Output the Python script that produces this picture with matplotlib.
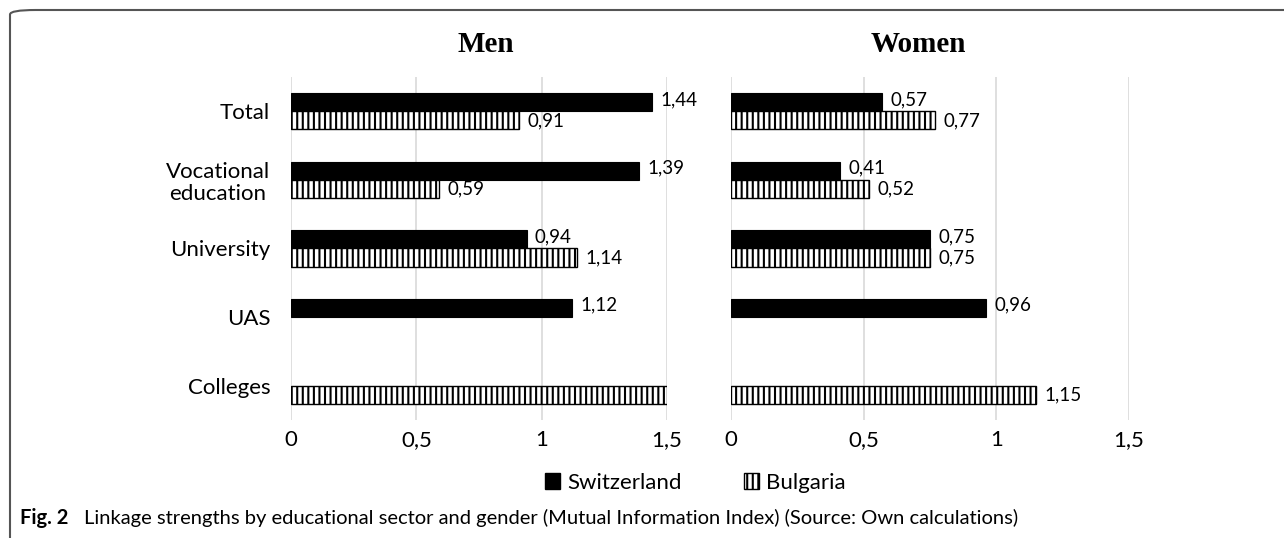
import numpy as np
import matplotlib
matplotlib.use("Agg")
import matplotlib.pyplot as plt
from matplotlib.patches import FancyBboxPatch, Patch

categories = ["Total", "Vocational\neducation", "University", "UAS", "Colleges"]
men_switzerland = [1.44, 1.39, 0.94, 1.12, np.nan]
men_bulgaria = [0.91, 0.59, 1.14, np.nan, 1.50]
women_switzerland = [0.57, 0.41, 0.75, 0.96, np.nan]
women_bulgaria = [0.77, 0.52, 0.75, np.nan, 1.15]
xticks = [0, 0.5, 1, 1.5]
xticklabels = ["0", "0,5", "1", "1,5"]
series_names = ["Switzerland", "Bulgaria"]
panel_titles = ["Men", "Women"]
caption_bold = "Fig. 2"
caption_rest = "Linkage strengths by educational sector and gender (Mutual Information Index) (Source: Own calculations)"

plt.rcParams['hatch.linewidth'] = 1.5
plt.rcParams['font.family'] = ['Lato', 'DejaVu Sans']

fig = plt.figure(figsize=(12.84, 5.38), dpi=100)

# frame
frame = FancyBboxPatch((10 / 1284, -0.2), 1.2, 0.2 + (1 - 10 / 538),
                       boxstyle="round,pad=0,rounding_size=0.02",
                       transform=fig.transFigure, fill=False,
                       edgecolor="#555555", linewidth=1.5, mutation_aspect=538/1284)
fig.patches.append(frame)

ax_men = fig.add_axes([291 / 1284, 1 - 420 / 538, (667 - 291) / 1284, (420 - 77) / 538])
ax_wom = fig.add_axes([731 / 1284, 1 - 420 / 538, (1129 - 731) / 1284, (420 - 77) / 538])

y = np.arange(len(categories))
h = 0.265

def fmt(v):
    return f"{v:.2f}".replace(".", ",")

for ax, sw, bg, title, xc in [(ax_men, men_switzerland, men_bulgaria, panel_titles[0], 486),
                               (ax_wom, women_switzerland, women_bulgaria, panel_titles[1], 918)]:
    ax.barh(y - h / 2, sw, height=h, color="black", edgecolor="black", linewidth=0.8, zorder=3)
    ax.barh(y + h / 2, bg, height=h, color="white", edgecolor="black", hatch="|||",
            linewidth=1.0, zorder=3)
    for yi, v in zip(y - h / 2, sw):
        if not np.isnan(v) and v < 1.5:
            ax.annotate(fmt(v), (v, yi), xytext=(6, 2), textcoords="offset points",
                        va="center", ha="left", fontsize=13.5)
    for yi, v in zip(y + h / 2, bg):
        if not np.isnan(v) and v < 1.5:
            ax.annotate(fmt(v), (v, yi), xytext=(6, 0), textcoords="offset points",
                        va="center", ha="left", fontsize=13.5)
    ax.set_xlim(0, 1.5)
    ax.set_ylim(len(categories) - 0.5, -0.5)
    ax.set_xticks(xticks)
    ax.set_xticklabels(xticklabels, fontsize=16)
    ax.grid(axis="x", color="#d9d9d9", linewidth=1.2, zorder=0)
    ax.set_axisbelow(True)
    for s in ax.spines.values():
        s.set_visible(False)
    ax.tick_params(axis="x", length=0, pad=7)
    ax.tick_params(axis="y", length=0)
    fig.text(xc / 1284, 1 - 44 / 538, title, ha="center", va="center",
             family="Liberation Serif", fontweight="bold", fontsize=21)

ax_men.set_yticks(y)
ax_men.set_yticklabels(categories, fontsize=16, linespacing=1.1, multialignment="center")
ax_men.tick_params(axis="y", pad=15)
ax_wom.set_yticks(y)
ax_wom.set_yticklabels([])

handles = [Patch(facecolor="black", edgecolor="black", label=series_names[0]),
           Patch(facecolor="white", edgecolor="black", hatch="|||", label=series_names[1])]
fig.legend(handles=handles, loc="center", bbox_to_anchor=(695 / 1284, 1 - 483 / 538),
           ncol=2, frameon=False, fontsize=16, handlelength=0.7, handleheight=0.7,
           handletextpad=0.3, columnspacing=2.8)

cap_family = ['Liberation Sans Narrow', 'Lato']
fig.text(20 / 1284, 1 - 518 / 538, caption_bold, fontweight="bold", fontsize=14.5,
         va="center", ha="left", family=cap_family)
fig.text(84 / 1284, 1 - 518 / 538, caption_rest, fontsize=14.5, va="center", ha="left",
         family=cap_family)

fig.savefig("out.png", dpi=100)
